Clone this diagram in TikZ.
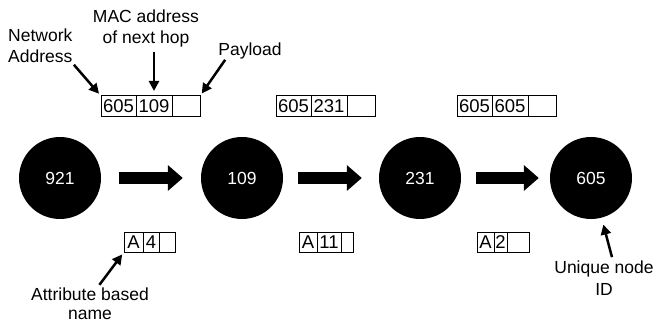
\documentclass[tikz,border=0pt]{standalone}
\usepackage{fontspec}
\setmainfont{Liberation Sans}
\usetikzlibrary{arrows.meta,positioning}
\begin{document}
\begin{tikzpicture}[x=1pt,y=-1pt,
    font=\fontsize{17.5}{21}\selectfont,
    host/.style={circle,fill=black,text=white,minimum size=82pt,inner sep=0pt},
    hop/.style={line width=12pt,-{Triangle[length=15pt,width=25pt]}},
    cell/.style={draw,line width=1pt,minimum height=20pt,inner sep=0pt,outer sep=0pt,
        font=\fontsize{18.5}{20}\selectfont},
    pointer/.style={line width=2.5pt,-{Triangle[length=10pt,width=10pt]}},
    lbl/.style={inner sep=0pt,align=center}]
    \useasboundingbox (0,0) rectangle (659,329);
    % \helpgrid{659}{329}
    \node[host] (n921) at (60,178) {921};
    \node[host] (n109) at (242,178) {109};
    \node[host] (n231) at (420,178) {231};
    \node[host] (n605) at (591,178) {605};
    \draw[hop,shorten <=18pt,shorten >=18pt] (n921) -- (n109);
    \draw[hop,shorten <=15pt,shorten >=17pt] (n109) -- (n231);
    \draw[hop,shorten <=15pt,shorten >=11pt] (n231) -- (n605);
    % packets above
    \node[cell,minimum width=35pt,anchor=west] (p1a) at (101,106) {605};
    \node[cell,minimum width=36pt,right=0pt of p1a] (p1b) {109};
    \node[cell,minimum width=28pt,right=0pt of p1b] (p1c) {};
    \node[cell,minimum width=35pt,anchor=west] (p2a) at (276,106) {605};
    \node[cell,minimum width=36pt,right=0pt of p2a] (p2b) {231};
    \node[cell,minimum width=28pt,right=0pt of p2b] (p2c) {};
    \node[cell,minimum width=35pt,anchor=west] (p3a) at (457,106) {605};
    \node[cell,minimum width=36pt,right=0pt of p3a] (p3b) {605};
    \node[cell,minimum width=28pt,right=0pt of p3b] (p3c) {};
    % names below
    \node[cell,minimum width=19pt,anchor=west] (a1) at (124,242) {A};
    \node[cell,minimum width=16pt,right=0pt of a1] (b1) {4};
    \node[cell,minimum width=16pt,right=0pt of b1] (c1) {};
    \node[cell,minimum width=18pt,anchor=west] (a2) at (299,242) {A};
    \node[cell,minimum width=24pt,right=0pt of a2] (b2) {11};
    \node[cell,minimum width=12pt,right=0pt of b2] (c2) {};
    \node[cell,minimum width=17pt,anchor=west] (a3) at (477,242) {A};
    \node[cell,minimum width=13pt,right=0pt of a3] (b3) {2};
    \node[cell,minimum width=22pt,right=0pt of b3] (c3) {};
    % labels
    \node[lbl,align=left,anchor=north west] (netaddr) at (8,29) {Network\\Address};
    \node[lbl,anchor=north] (machop) at (146,10) {MAC address\\of next hop};
    \node[lbl,anchor=base] (payload) at (250,56) {Payload};
    \node[lbl,anchor=north] (attr) at (90,288) {Attribute based\\[-2pt]name};
    \node[lbl,anchor=north] (uid) at (604,261) {Unique node\\[1pt]ID};
    \draw[pointer,shorten <=2pt,shorten >=3pt] (netaddr.south east) -- (p1a.north west);
    \draw[pointer,shorten <=4pt,shorten >=5pt] (machop.south -| p1b.north) -- (p1b.north);
    \draw[pointer,shorten >=3pt] ([xshift=7pt]payload.south west) -- (p1c.north east);
    \draw[pointer,shorten <=4pt,shorten >=3pt] ([xshift=7pt]attr.north) -- (a1.south west);
    \draw[pointer,shorten <=4pt,shorten >=7pt] ([xshift=9pt]uid.north) -- (n605);
\end{tikzpicture}
\end{document}
